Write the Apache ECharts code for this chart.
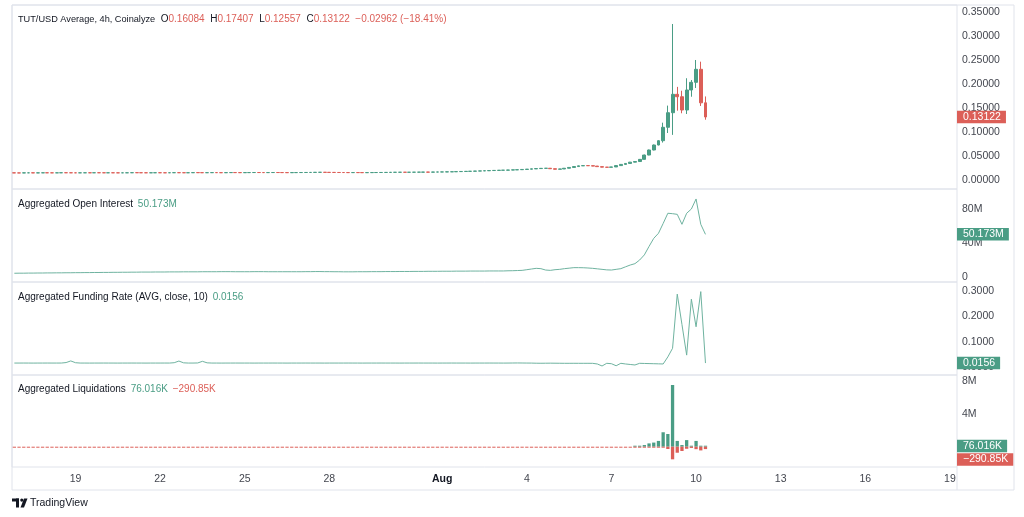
<!DOCTYPE html>
<html><head><meta charset="utf-8">
<script src="https://cdn.jsdelivr.net/npm/echarts@6/dist/echarts.min.js"></script>
<style>html,body{margin:0;padding:0;background:#fff}#c{width:1024px;height:517px}</style>
</head><body><div id="c"></div>
<script>
// ---------- DATA (4h bars, index 0 = Jul 16 20:00) ----------
// candles: [open, close, low, high]
const candles = [
[0.0149,0.0148,0.0146,0.0151],[0.0148,0.0147,0.0145,0.0150],[0.0147,0.0149,0.0145,0.0151],[0.0149,0.0150,0.0147,0.0152],[0.0150,0.0148,0.0146,0.0152],
[0.0148,0.0149,0.0146,0.0151],[0.0149,0.0151,0.0147,0.0153],[0.0151,0.0150,0.0148,0.0153],[0.0150,0.0149,0.0147,0.0152],[0.0149,0.0150,0.0147,0.0152],
[0.0150,0.0152,0.0148,0.0154],[0.0152,0.0151,0.0149,0.0154],[0.0151,0.0150,0.0148,0.0153],[0.0150,0.0149,0.0147,0.0152],[0.0149,0.0150,0.0147,0.0152],
[0.0150,0.0151,0.0148,0.0153],[0.0151,0.0150,0.0148,0.0153],[0.0150,0.0152,0.0148,0.0154],[0.0152,0.0151,0.0149,0.0154],[0.0151,0.0150,0.0148,0.0153],
[0.0150,0.0151,0.0148,0.0153],[0.0151,0.0150,0.0148,0.0153],[0.0150,0.0149,0.0147,0.0152],[0.0149,0.0150,0.0147,0.0152],[0.0150,0.0151,0.0148,0.0153],
[0.0151,0.0153,0.0149,0.0155],[0.0153,0.0152,0.0150,0.0155],[0.0152,0.0151,0.0149,0.0154],[0.0151,0.0150,0.0148,0.0153],[0.0150,0.0151,0.0148,0.0153],
[0.0151,0.0152,0.0149,0.0154],[0.0152,0.0151,0.0149,0.0154],[0.0151,0.0150,0.0148,0.0153],[0.0150,0.0152,0.0148,0.0154],[0.0152,0.0153,0.0150,0.0155],
[0.0153,0.0152,0.0150,0.0155],[0.0152,0.0151,0.0149,0.0154],[0.0151,0.0152,0.0149,0.0154],[0.0152,0.0154,0.0150,0.0156],[0.0154,0.0153,0.0151,0.0156],
[0.0153,0.0152,0.0150,0.0155],[0.0152,0.0153,0.0150,0.0155],[0.0153,0.0154,0.0151,0.0156],[0.0154,0.0153,0.0151,0.0156],[0.0153,0.0152,0.0150,0.0155],
[0.0152,0.0154,0.0150,0.0156],[0.0154,0.0155,0.0152,0.0157],[0.0155,0.0154,0.0152,0.0157],[0.0154,0.0153,0.0151,0.0156],[0.0153,0.0154,0.0151,0.0156],
[0.0154,0.0155,0.0152,0.0157],[0.0155,0.0156,0.0153,0.0158],[0.0156,0.0155,0.0153,0.0158],[0.0155,0.0154,0.0152,0.0157],[0.0154,0.0155,0.0152,0.0157],
[0.0155,0.0156,0.0153,0.0158],[0.0156,0.0155,0.0153,0.0158],[0.0155,0.0154,0.0152,0.0157],[0.0154,0.0153,0.0151,0.0156],[0.0153,0.0154,0.0151,0.0156],
[0.0154,0.0155,0.0152,0.0157],[0.0155,0.0156,0.0153,0.0158],[0.0156,0.0157,0.0154,0.0159],[0.0157,0.0158,0.0155,0.0160],[0.0158,0.0160,0.0156,0.0162],
[0.0160,0.0161,0.0158,0.0163],[0.0161,0.0159,0.0157,0.0163],[0.0159,0.0158,0.0156,0.0161],[0.0158,0.0157,0.0155,0.0160],[0.0157,0.0156,0.0154,0.0159],
[0.0156,0.0155,0.0153,0.0158],[0.0155,0.0154,0.0152,0.0157],[0.0154,0.0155,0.0152,0.0157],[0.0155,0.0154,0.0152,0.0157],[0.0154,0.0153,0.0151,0.0156],
[0.0153,0.0154,0.0151,0.0156],[0.0154,0.0155,0.0152,0.0157],[0.0155,0.0156,0.0153,0.0158],[0.0156,0.0157,0.0154,0.0159],[0.0157,0.0158,0.0155,0.0160],
[0.0158,0.0160,0.0156,0.0162],[0.0160,0.0161,0.0158,0.0163],[0.0161,0.0162,0.0159,0.0164],[0.0162,0.0161,0.0159,0.0164],[0.0161,0.0162,0.0159,0.0164],
[0.0162,0.0163,0.0160,0.0165],[0.0163,0.0164,0.0161,0.0166],[0.0164,0.0165,0.0162,0.0167],[0.0165,0.0164,0.0162,0.0167],[0.0164,0.0166,0.0162,0.0168],
[0.0166,0.0167,0.0164,0.0169],[0.0167,0.0168,0.0165,0.0170],[0.0168,0.0170,0.0166,0.0172],[0.0170,0.0172,0.0168,0.0174],[0.0172,0.0175,0.0170,0.0177],
[0.0175,0.0178,0.0173,0.0180],[0.0178,0.0180,0.0176,0.0182],[0.0180,0.0183,0.0178,0.0185],[0.0183,0.0186,0.0181,0.0188],[0.0186,0.0190,0.0184,0.0192],
[0.0190,0.0193,0.0188,0.0195],[0.0193,0.0197,0.0191,0.0199],[0.0197,0.0200,0.0195,0.0202],[0.0200,0.0203,0.0198,0.0205],[0.0203,0.0205,0.0201,0.0207],
[0.0205,0.0208,0.0203,0.0210],[0.0208,0.0211,0.0206,0.0213],[0.0211,0.0215,0.0209,0.0217],[0.0215,0.0220,0.0213,0.0222],[0.0220,0.0226,0.0218,0.0228],
[0.0226,0.0232,0.0224,0.0234],[0.0232,0.0238,0.0230,0.0240],[0.0238,0.0243,0.0236,0.0246],[0.0243,0.0245,0.0240,0.0248],[0.0245,0.0235,0.0233,0.0248],
[0.0235,0.0224,0.0221,0.0237],[0.0224,0.0230,0.0222,0.0233],[0.0230,0.0245,0.0228,0.0248],[0.0245,0.0262,0.0243,0.0265],[0.0262,0.0280,0.0260,0.0283],
[0.0280,0.0295,0.0277,0.0298],[0.0295,0.0300,0.0292,0.0305],[0.0300,0.0298,0.0294,0.0304],[0.0298,0.0290,0.0287,0.0301],[0.0290,0.0278,0.0275,0.0293],
[0.0278,0.0268,0.0265,0.0281],[0.0268,0.0264,0.0261,0.0271],[0.0264,0.0272,0.0262,0.0275],[0.0272,0.0300,0.0270,0.0303],[0.0300,0.0325,0.0298,0.0328],
[0.0325,0.0345,0.0322,0.0349],[0.0345,0.0372,0.0342,0.0376],[0.0372,0.0385,0.0368,0.0390],[0.0385,0.0430,0.0382,0.0436],[0.0430,0.0520,0.0427,0.0528],
[0.0520,0.0625,0.0515,0.0633],[0.0625,0.0729,0.0618,0.0738],[0.0729,0.0819,0.0722,0.0830],[0.0819,0.1098,0.0780,0.1194],[0.1098,0.1402,0.0979,0.1550],
[0.1402,0.1785,0.0940,0.3250],[0.1785,0.1735,0.1444,0.1940],[0.1735,0.1458,0.1390,0.1860],[0.1458,0.1875,0.1375,0.2120],[0.1875,0.2035,0.1735,0.2083],
[0.2035,0.2306,0.1917,0.2500],[0.2306,0.1608,0.1542,0.2465],[0.16084,0.13122,0.12557,0.17407]
];
// Aggregated open interest, millions USD
const openInterest = [
4.4,4.5,4.5,4.6,4.6,4.7,4.7,4.8,4.8,4.9,
4.9,5.0,5.0,5.1,5.1,5.2,5.2,5.3,5.3,5.4,
5.4,5.5,5.5,5.6,5.6,5.7,5.7,5.8,5.8,5.8,
5.9,5.9,5.9,6.0,6.0,6.0,6.1,6.1,6.1,6.1,
6.2,6.2,6.2,6.2,6.3,6.3,6.3,6.2,6.2,6.2,
6.2,6.3,6.3,6.3,6.2,6.2,6.2,6.2,6.2,6.2,
6.2,6.2,6.3,6.3,6.4,6.4,6.3,6.3,6.2,6.2,
6.1,6.1,6.1,6.2,6.2,6.2,6.3,6.3,6.3,6.4,
6.4,6.4,6.5,6.5,6.5,6.6,6.6,6.6,6.7,6.7,
6.7,6.8,6.8,6.8,6.9,6.9,6.9,7.0,7.0,7.0,
7.0,7.1,7.1,7.1,7.1,7.3,7.4,7.6,7.8,8.6,
9.4,10.2,9.8,8.2,7.8,8.6,9.0,9.8,10.4,11.0,
11.0,10.9,10.6,10.2,9.6,9.0,8.4,8.2,9.0,9.8,
12.0,14.1,15.7,20.0,26.0,36.0,45.5,51.4,63.0,75.0,
74.5,73.7,62.0,75.0,80.0,91.8,62.0,50.173
];
// Aggregated funding rate (AVG, close, 10)
const fundingRate = [
0.0156,0.0156,0.0157,0.0156,0.0155,0.0156,0.0156,0.0157,0.0156,0.0156,
0.0157,0.0175,0.0240,0.0170,0.0156,0.0156,0.0155,0.0156,0.0156,0.0157,
0.0156,0.0156,0.0155,0.0156,0.0156,0.0157,0.0156,0.0156,0.0155,0.0156,
0.0156,0.0156,0.0157,0.0156,0.0170,0.0235,0.0165,0.0156,0.0156,0.0160,
0.0225,0.0165,0.0156,0.0156,0.0155,0.0156,0.0156,0.0157,0.0156,0.0156,
0.0156,0.0155,0.0156,0.0156,0.0156,0.0157,0.0156,0.0156,0.0155,0.0156,
0.0156,0.0156,0.0157,0.0156,0.0156,0.0156,0.0155,0.0156,0.0156,0.0156,
0.0156,0.0157,0.0156,0.0156,0.0155,0.0156,0.0156,0.0156,0.0157,0.0156,
0.0156,0.0156,0.0155,0.0156,0.0156,0.0156,0.0157,0.0156,0.0156,0.0156,
0.0155,0.0156,0.0156,0.0157,0.0156,0.0156,0.0156,0.0155,0.0156,0.0156,
0.0156,0.0157,0.0156,0.0156,0.0155,0.0156,0.0158,0.0160,0.0158,0.0156,
0.0155,0.0150,0.0148,0.0150,0.0152,0.0150,0.0148,0.0146,0.0146,0.0147,
0.0146,0.0146,0.0146,0.0145,0.0120,0.0040,0.0146,0.0130,0.0050,0.0146,
0.0120,0.0100,0.0080,0.0146,0.0140,0.0135,0.0130,0.0125,0.0120,0.0400,
0.0740,0.2880,0.1680,0.0470,0.2680,0.1590,0.2980,0.0156
];
// Aggregated liquidations, millions USD (longs positive, shorts negative; 0 = none)
const liqLong = [
0,0,0,0,0,0,0,0,0,0, 0,0,0,0,0,0,0,0,0,0, 0,0,0,0,0,0,0,0,0,0, 0,0,0,0,0,0,0,0,0,0,
0,0,0,0,0,0,0,0,0,0, 0,0,0,0,0,0,0,0,0,0, 0,0,0,0,0,0,0,0,0,0, 0,0,0,0,0,0,0,0,0,0,
0,0,0,0,0,0,0,0,0,0, 0,0,0,0,0,0,0,0,0,0, 0,0,0,0,0,0,0,0,0,0, 0,0,0,0,0,0,0,0,0,0,
0,0,0,0,0,0,0,0,0,0, 0,0,0.02,0.05,0.2,0.4,0.5,0.7,1.75,1.54,
7.48,0.7,0.2,0.8,0.1,0.7,0.05,0.076016
];
const liqShort = [
-0.02,-0.03,-0.02,-0.02,-0.04,-0.02,-0.03,-0.02,-0.02,-0.03, -0.02,-0.02,-0.03,-0.02,-0.02,-0.04,-0.02,-0.02,-0.03,-0.02,
-0.02,-0.03,-0.02,-0.02,-0.02,-0.03,-0.02,-0.04,-0.02,-0.02, -0.03,-0.02,-0.02,-0.02,-0.03,-0.02,-0.02,-0.03,-0.02,-0.02,
-0.02,-0.03,-0.02,-0.02,-0.04,-0.02,-0.03,-0.02,-0.02,-0.03, -0.02,-0.02,-0.03,-0.02,-0.02,-0.04,-0.02,-0.02,-0.03,-0.02,
-0.02,-0.03,-0.02,-0.02,-0.02,-0.03,-0.02,-0.04,-0.02,-0.02, -0.03,-0.02,-0.02,-0.02,-0.03,-0.02,-0.02,-0.03,-0.02,-0.02,
-0.02,-0.03,-0.02,-0.02,-0.04,-0.02,-0.03,-0.02,-0.02,-0.03, -0.02,-0.02,-0.03,-0.02,-0.02,-0.04,-0.02,-0.02,-0.03,-0.02,
-0.02,-0.03,-0.02,-0.02,-0.02,-0.03,-0.02,-0.04,-0.02,-0.02, -0.03,-0.02,-0.02,-0.02,-0.03,-0.02,-0.02,-0.03,-0.02,-0.02,
-0.02,-0.03,-0.02,-0.02,-0.04,-0.02,-0.03,-0.02,-0.02,-0.03, -0.02,-0.02,-0.03,-0.02,-0.02,-0.04,-0.02,-0.03,-0.10,-0.28,
-1.53,-0.73,-0.52,-0.25,-0.15,-0.30,-0.45,-0.29085
];
// axis ticks
const priceTicks = [0, 0.05, 0.10, 0.15, 0.20, 0.25, 0.30, 0.35];
const oiTicks = [0, 40, 80];
const fundingTicks = [0, 0.1, 0.2, 0.3];
const liqTicks = [0, 4, 8];
const xTicks = [['07-19','19'],['07-22','22'],['07-25','25'],['07-28','28'],['08-01','Aug'],['08-04','4'],['08-07','7'],['08-10','10'],['08-13','13'],['08-16','16'],['08-19','19']];
const paneTitles = ['TUT/USD Average, 4h, Coinalyze', 'Aggregated Open Interest', 'Aggregated Funding Rate (AVG, close, 10)', 'Aggregated Liquidations'];

// ---------- LAYOUT / STYLE ----------
const FONT = '"Liberation Sans", Arial, sans-serif';
const UP = '#4a9d85', DOWN = '#dc5f58', TXT = '#131722', AX = '#43464f', BORDER = '#e0e3eb';
const plotLeft = 12, plotRight = 957;
const paneTop = [5, 189, 282, 375], paneBottom = [189, 282, 375, 467];
const yRanges = [[-0.01875, 0.36458], [-5.88, 103.53], [-0.0316, 0.336], [-2.46, 8.69]];
const NSLOTS = 201;

const pad = n => String(n).padStart(2, '0');
const startMs = Date.UTC(2025, 6, 16, 20);
const cats = [];
for (let i = 0; i < NSLOTS; i++) {
  const d = new Date(startMs + i * 4 * 3600e3);
  cats.push(pad(d.getUTCMonth() + 1) + '-' + pad(d.getUTCDate()) + ' ' + pad(d.getUTCHours()) + ':00');
}
const tickMap = new Map(xTicks.map(t => [t[0] + ' 00:00', t[1]]));
const minus = s => s.replace(/-/g, '\u2212');

const last = candles[candles.length - 1];
const chg = last[1] - last[0];
const pct = Math.trunc(chg / last[0] * 10000) / 100;

const chart = echarts.init(document.getElementById('c'), null, {renderer: 'canvas'});

const tStyle = (extra) => Object.assign({fontSize: 10, fontFamily: FONT, lineHeight: 12}, extra);
const titles = [
  {left: 18, top: 13, text: '{t|' + paneTitles[0] + '}  {n|O}{v|' + last[0].toFixed(5) + '}  {n|H}{v|' + last[3].toFixed(5) + '}  {n|L}{v|' + last[2].toFixed(5) + '}  {n|C}{v|' + last[1].toFixed(5) + '}  {v|' + minus(chg.toFixed(5)) + ' (' + minus(pct.toFixed(2)) + '%)}'},
  {left: 18, top: 198, text: '{n|' + paneTitles[1] + '} {g|' + openInterest[openInterest.length - 1].toFixed(3) + 'M}'},
  {left: 18, top: 291, text: '{n|' + paneTitles[2] + '} {g|' + fundingRate[fundingRate.length - 1].toFixed(4) + '}'},
  {left: 18, top: 383.5, text: '{n|' + paneTitles[3] + '} {g|' + (liqLong[liqLong.length - 1] * 1000).toFixed(3) + 'K} {r|' + minus((liqShort[liqShort.length - 1] * 1000).toFixed(2)) + 'K}'}
].map(t => Object.assign(t, {padding: 0, textStyle: {fontSize: 10, fontFamily: FONT, fontWeight: 'normal', color: TXT,
  rich: {t: tStyle({color: TXT, fontSize: 9.2}), n: tStyle({color: TXT}), v: tStyle({color: DOWN}),
    r: tStyle({color: DOWN, padding: [0, 0, 0, 2]}), g: tStyle({color: UP, padding: [0, 0, 0, 2]})}}}));

const tickFmt = [
  v => v.toFixed(5),
  v => v === 0 ? '0' : v + 'M',
  v => v.toFixed(4),
  v => v === 0 ? '0' : v + 'M'
];
const tickSets = [priceTicks, oiTicks, fundingTicks, liqTicks];

const option = {
  animation: false,
  backgroundColor: '#ffffff',
  title: titles,
  grid: paneTop.map((t, i) => ({left: plotLeft, width: plotRight - plotLeft, top: t, height: paneBottom[i] - t,
    show: true, borderColor: BORDER, borderWidth: 1, backgroundColor: 'transparent', containLabel: false})),
  xAxis: paneTop.map((t, i) => ({
    type: 'category', gridIndex: i, data: cats, boundaryGap: true,
    axisLine: {show: false}, axisTick: {show: false}, splitLine: {show: false},
    axisLabel: {show: i === 3, interval: (idx, val) => tickMap.has(val), formatter: val => {
        const s = tickMap.get(val); return s === 'Aug' ? '{b|Aug}' : (s || ''); },
      margin: 7, color: AX, fontSize: 10.5, fontFamily: FONT,
      rich: {b: {fontWeight: 'bold', color: TXT, fontSize: 10.5, fontFamily: FONT}}}
  })),
  yAxis: paneTop.map((t, i) => ({
    type: 'value', gridIndex: i, position: 'right', min: yRanges[i][0], max: yRanges[i][1],
    axisLine: {show: false}, axisTick: {show: false}, splitLine: {show: false},
    axisLabel: {customValues: tickSets[i], formatter: tickFmt[i], margin: 5, color: AX, fontSize: 10.5, fontFamily: FONT}
  })),
  series: [
    {type: 'candlestick', xAxisIndex: 0, yAxisIndex: 0, data: candles, barWidth: '72%',
      itemStyle: {color: UP, color0: DOWN, borderColor: UP, borderColor0: DOWN, borderWidth: 1}},
    {type: 'line', xAxisIndex: 1, yAxisIndex: 1, data: openInterest, showSymbol: false, symbol: 'none',
      lineStyle: {color: '#6fb3a0', width: 1}},
    {type: 'line', xAxisIndex: 2, yAxisIndex: 2, data: fundingRate, showSymbol: false, symbol: 'none',
      lineStyle: {color: '#6fb3a0', width: 1}},
    {type: 'bar', xAxisIndex: 3, yAxisIndex: 3, stack: 'liq', data: liqLong.map(v => v === 0 ? null : v),
      barWidth: '70%', barMinHeight: 1, itemStyle: {color: UP}},
    {type: 'bar', xAxisIndex: 3, yAxisIndex: 3, stack: 'liq', data: liqShort.map(v => v === 0 ? null : v),
      barWidth: '70%', barMinHeight: 1, itemStyle: {color: DOWN}}
  ],
  graphic: [
    {type: 'rect', id: 'frame', shape: {x: plotLeft, y: paneTop[0], width: 1014 - plotLeft, height: 490 - paneTop[0]},
      style: {fill: 'none', stroke: BORDER, lineWidth: 1}, silent: true, z: -1},
    {type: 'line', id: 'axsep', shape: {x1: plotRight, y1: paneBottom[3], x2: plotRight, y2: 490},
      style: {stroke: BORDER, lineWidth: 1}, silent: true},
    {type: 'group', id: 'logo', x: 12, y: 498.5, children: [
      {type: 'rect', shape: {x: 0, y: 0, width: 7, height: 3}, style: {fill: TXT}},
      {type: 'rect', shape: {x: 4, y: 0, width: 3, height: 9}, style: {fill: TXT}},
      {type: 'circle', shape: {cx: 9.8, cy: 1.6, r: 1.6}, style: {fill: TXT}},
      {type: 'polygon', shape: {points: [[12, 0], [15.5, 0], [12, 9], [8.5, 9]]}, style: {fill: TXT}}
    ]},
    {type: 'text', id: 'tvtext', x: 30, y: 503.5, style: {text: 'TradingView', fill: TXT, font: '500 10.5px ' + FONT, verticalAlign: 'middle'}}
  ]
};
chart.setOption(option);

// value tags on the right scales, positioned through the axes
function tag(id, yAxisIndex, value, text, color, minY) {
  let y = chart.convertToPixel({yAxisIndex: yAxisIndex}, value);
  if (minY != null) y = Math.max(y, minY);
  return {type: 'text', id: id, x: plotRight, y: y, z: 10,
    style: {text: text, fill: '#ffffff', font: '10.5px ' + FONT, verticalAlign: 'middle', align: 'left',
      backgroundColor: color, padding: [1, 5, 0, 6], lineHeight: 11.5}};
}
const oiLast = openInterest[openInterest.length - 1];
const frLast = fundingRate[fundingRate.length - 1];
const lLong = liqLong[liqLong.length - 1], lShort = liqShort[liqShort.length - 1];
const yLong = chart.convertToPixel({yAxisIndex: 3}, lLong);
chart.setOption({graphic: [
  tag('tp', 0, last[1], last[1].toFixed(5), DOWN),
  tag('toi', 1, oiLast, oiLast.toFixed(3) + 'M', UP),
  tag('tfr', 2, frLast, frLast.toFixed(4), UP),
  tag('tll', 3, lLong, (lLong * 1000).toFixed(3) + 'K', UP),
  tag('tls', 3, lShort, minus((lShort * 1000).toFixed(2)) + 'K', DOWN, yLong + 13.5)
]});
</script></body></html>
